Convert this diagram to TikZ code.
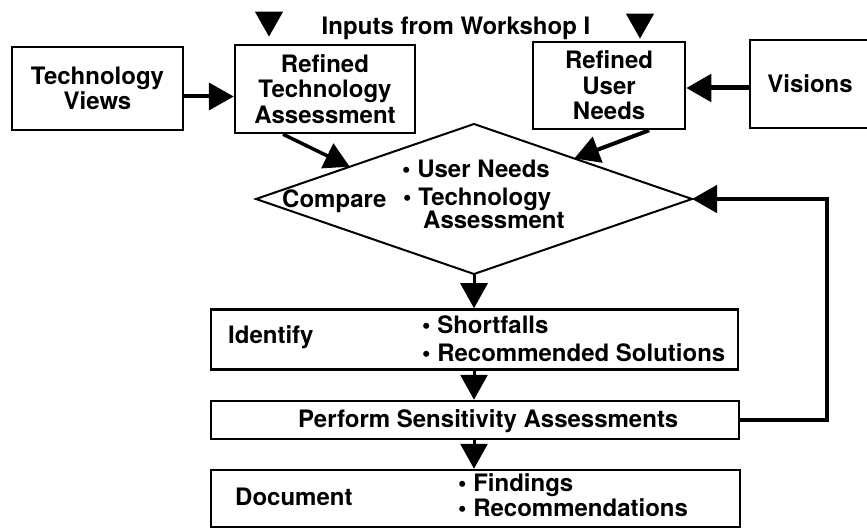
\documentclass[tikz,border=0pt]{standalone}
\usepackage{fontspec}
\setmainfont{TeX Gyre Heros}
\usetikzlibrary{arrows.meta,shapes.geometric,calc}
\begin{document}
\begin{tikzpicture}[x=1pt,y=-1pt,
  lbl/.style={inner sep=0pt, font=\fontsize{24}{25.5}\selectfont\bfseries},
  box/.style={draw, line width=2.5pt, inner sep=0pt, align=center,
              font=\fontsize{24}{25.5}\selectfont\bfseries},
  arr/.style={-{Triangle[length=25pt,width=27pt]}, line width=4pt},
]
\useasboundingbox (0,0) rectangle (867,529);

% upper row of boxes
\node[box, minimum width=171pt, minimum height=83pt] (tv) at (97.5,88.5) {Technology\\Views};
\node[box, minimum width=180pt, minimum height=88pt] (rta) at (325,89) {Refined\\Technology\\Assessment};
\node[box, minimum width=152pt, minimum height=87pt] (run) at (609,85.5) {Refined\\User\\Needs};
\node[box, minimum width=120pt, minimum height=88pt] (vis) at (810,84) {Visions};
\node[lbl] (inp) at (456,28) {Inputs from Workshop I};
\coordinate (in1) at (269,13);
\coordinate (in2) at (640,15);

% decision
\node[diamond, draw, line width=2pt, minimum width=436pt, minimum height=150pt,
      inner sep=0pt, outer sep=0pt] (cmp) at (474,199) {};
\node[lbl, anchor=base west] (cmpA) at (402,178) {• User Needs};
\node[lbl, anchor=base west] (cmpB) at (282,208) {Compare};
\node[lbl, anchor=base west] (cmpC) at (403,206) {• Technology};
\node[lbl, anchor=base west] (cmpD) at (423,229) {Assessment};

% lower boxes
\node[box, minimum width=527pt, minimum height=60pt] (idf) at (474.5,339.5) {};
\node[lbl, anchor=base west] (idfA) at (228,343) {Identify};
\node[lbl, anchor=base west] (idfB) at (422,333.5) {• Shortfalls};
\node[lbl, anchor=base west] (idfC) at (422,361.5) {• Recommended Solutions};

\node[box, minimum width=528pt, minimum height=38pt] (psa) at (475,420) {};
\node[lbl, anchor=base west] (psaT) at (298,427) {Perform Sensitivity Assessments};

\node[box, minimum width=529pt, minimum height=57pt] (doc) at (475.5,498.5) {};
\node[lbl, anchor=base west] (docA) at (235,505) {Document};
\node[lbl, anchor=base west] (docB) at (458,491) {• Findings};
\node[lbl, anchor=base west] (docC) at (458,516) {• Recommendations};

% connectors
\draw[arr] ([yshift=-8pt]tv.east) -- ([yshift=-8pt]tv.east -| rta.west);
\draw[arr, line width=5pt] ([yshift=-4pt]vis.west) -- ([yshift=-4pt]vis.west -| run.east);
\draw[arr, shorten >=7pt] (in1) -- (in1 |- rta.north);
\draw[arr, shorten >=2pt] (in2) -- (in2 |- run.north);
\draw[arr, line width=3.5pt] ($(rta.south west)!0.27!(rta.south east)$) -- ($(cmp.west)!0.43!(cmp.north)$);
\draw[arr, line width=4pt] ($(run.south west)!0.76!(run.south east)$) -- ($(cmp.north)!0.46!(cmp.east)$);
\draw[arr, line width=3pt] (cmp.south) -- (cmp.south |- idf.north);
\draw[arr, line width=3pt] (idf.south -| cmp.south) -- (cmp.south |- psa.north);
\draw[arr, line width=3pt] (psa.south -| cmp.south) -- (cmp.south |- doc.north);
\coordinate (fb) at (827,300);
\draw[arr, line width=4.5pt] (psa.east) -| (fb) |- (cmp.east);
\end{tikzpicture}
\end{document}
